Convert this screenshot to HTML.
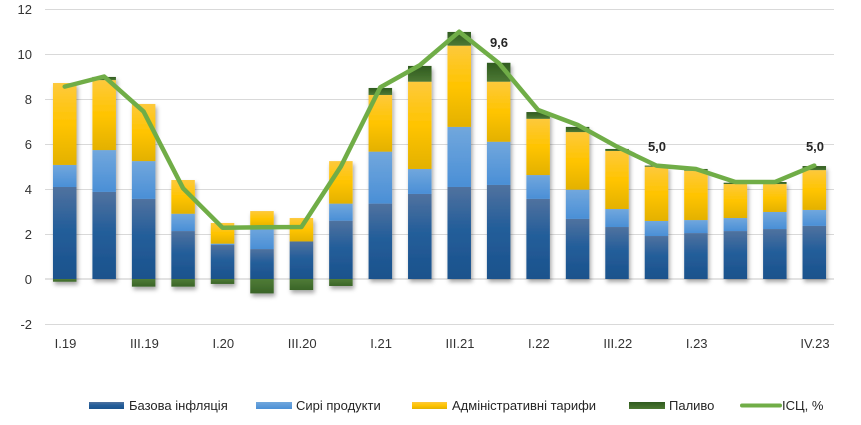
<!DOCTYPE html>
<html>
<head>
<meta charset="utf-8">
<style>
html,body{margin:0;padding:0;background:#fff;}
svg{display:block;}
text{font-family:"Liberation Sans","DejaVu Sans",sans-serif;}
</style>
</head>
<body>
<svg width="861" height="425" viewBox="0 0 861 425" xmlns="http://www.w3.org/2000/svg">
<defs>
  <linearGradient id="gBase" x1="0" y1="0" x2="0" y2="1">
    <stop offset="0" stop-color="#50729f"/>
    <stop offset="0.45" stop-color="#245e9a"/>
    <stop offset="1" stop-color="#1b528c"/>
  </linearGradient>
  <linearGradient id="gRaw" x1="0" y1="0" x2="0" y2="1">
    <stop offset="0" stop-color="#71a7dd"/>
    <stop offset="1" stop-color="#4a8fd6"/>
  </linearGradient>
  <linearGradient id="gAdm" x1="0" y1="0" x2="0" y2="1">
    <stop offset="0" stop-color="#fdc93c"/>
    <stop offset="0.5" stop-color="#ffc400"/>
    <stop offset="1" stop-color="#e3b100"/>
  </linearGradient>
  <linearGradient id="gFuel" x1="0" y1="0" x2="0" y2="1">
    <stop offset="0" stop-color="#2f5a1f"/>
    <stop offset="1" stop-color="#4d7934"/>
  </linearGradient>
  <linearGradient id="gFuelN" x1="0" y1="0" x2="0" y2="1">
    <stop offset="0" stop-color="#4f7b36"/>
    <stop offset="1" stop-color="#3a6528"/>
  </linearGradient>
  <filter id="sh" x="-30%" y="-30%" width="160%" height="160%">
    <feDropShadow dx="1.5" dy="3" stdDeviation="2" flood-color="#000" flood-opacity="0.35"/>
  </filter>
</defs>

<!-- gridlines -->
<g stroke="#d9d9d9" stroke-width="1">
  <line x1="45" y1="9.5" x2="834" y2="9.5"/>
  <line x1="45" y1="54.5" x2="834" y2="54.5"/>
  <line x1="45" y1="99.5" x2="834" y2="99.5"/>
  <line x1="45" y1="144.5" x2="834" y2="144.5"/>
  <line x1="45" y1="189.5" x2="834" y2="189.5"/>
  <line x1="45" y1="234.5" x2="834" y2="234.5"/>
  <line x1="45" y1="279" x2="834" y2="279" stroke-width="1.5"/>
  <line x1="45" y1="324.5" x2="834" y2="324.5"/>
</g>

<!-- y labels -->
<g font-size="13" fill="#333" text-anchor="end">
  <text x="32" y="14">12</text>
  <text x="32" y="59">10</text>
  <text x="32" y="104">8</text>
  <text x="32" y="149">6</text>
  <text x="32" y="194">4</text>
  <text x="32" y="239">2</text>
  <text x="32" y="284">0</text>
  <text x="32" y="329">-2</text>
</g>

<g id="bars"></g>

<!-- x labels -->
<g font-size="13" fill="#333" text-anchor="middle">
  <text x="65.5" y="348">I.19</text>
  <text x="144.4" y="348">III.19</text>
  <text x="223.3" y="348">I.20</text>
  <text x="302.2" y="348">III.20</text>
  <text x="381.1" y="348">I.21</text>
  <text x="460" y="348">III.21</text>
  <text x="538.9" y="348">I.22</text>
  <text x="617.8" y="348">III.22</text>
  <text x="696.7" y="348">I.23</text>
  <text x="815" y="348">IV.23</text>
</g>

<!-- data labels -->
<g font-size="13" font-weight="bold" fill="#262626" text-anchor="middle">
  <text x="499" y="47">9,6</text>
  <text x="657" y="151">5,0</text>
  <text x="815" y="151">5,0</text>
</g>

<!-- legend -->
<g font-size="13" fill="#262626">
  <rect x="89" y="402" width="35" height="7" fill="url(#gBase)"/>
  <text x="129" y="410">Базова інфляція</text>
  <rect x="256" y="402" width="36" height="7" fill="url(#gRaw)"/>
  <text x="296" y="410">Сирі продукти</text>
  <rect x="412" y="402" width="35" height="7" fill="url(#gAdm)"/>
  <text x="452" y="410">Адміністративні тарифи</text>
  <rect x="629" y="402" width="36" height="7" fill="url(#gFuel)"/>
  <text x="669" y="410">Паливо</text>
  <line x1="742" y1="405.5" x2="780" y2="405.5" stroke="#70ad47" stroke-width="4" stroke-linecap="round"/>
  <text x="782" y="410">ІСЦ, %</text>
</g>

<script>
(function(){
  var base=[4.09,3.87,3.56,2.13,1.51,1.33,1.67,2.59,3.35,3.78,4.09,4.18,3.56,2.67,2.31,1.91,2.04,2.13,2.22,2.36];
  var raw=[0.98,1.86,1.68,0.77,0.06,0.99,0.0,0.76,2.31,1.11,2.67,1.92,1.06,1.30,0.80,0.67,0.58,0.58,0.76,0.71];
  var adm=[3.64,3.11,2.54,1.50,0.92,0.70,1.04,1.89,2.52,3.88,3.61,2.67,2.50,2.56,2.58,2.41,2.19,1.51,1.24,1.77];
  var fuel=[-0.12,0.14,-0.34,-0.34,-0.22,-0.64,-0.49,-0.31,0.31,0.70,0.61,0.84,0.30,0.23,0.09,0.05,0.08,0.06,0.09,0.18];
  var cpi=[8.55,9.0,7.44,4.03,2.28,2.3,2.31,5.0,8.52,9.5,10.99,9.6,7.51,6.85,5.88,5.04,4.89,4.31,4.31,5.04];
  var ns="http://www.w3.org/2000/svg";
  var g=document.getElementById("bars");
  var w=39.45, bw=23.5, z=279, u=22.5;
  function Y(v){return z-u*v;}
  function rect(par,x,y1,y2,fill){
    var r=document.createElementNS(ns,"rect");
    var top=Math.min(y1,y2), h=Math.abs(y2-y1);
    if(h<0.01) return;
    r.setAttribute("x",x.toFixed(2));
    r.setAttribute("y",top.toFixed(2));
    r.setAttribute("width",bw);
    r.setAttribute("height",h.toFixed(2));
    r.setAttribute("fill",fill);
    par.appendChild(r);
  }
  var pts=[];
  for(var i=0;i<20;i++){
    var c=45+w*(i+0.5), x=c-bw/2;
    var bg=document.createElementNS(ns,"g");
    bg.setAttribute("filter","url(#sh)");
    var s=0;
    rect(bg,x,Y(0),Y(base[i]),"url(#gBase)"); s=base[i];
    rect(bg,x,Y(s),Y(s+raw[i]),"url(#gRaw)"); s+=raw[i];
    rect(bg,x,Y(s),Y(s+adm[i]),"url(#gAdm)"); s+=adm[i];
    if(fuel[i]>0){ rect(bg,x,Y(s),Y(s+fuel[i]),"url(#gFuel)"); }
    else { rect(bg,x,Y(0),Y(fuel[i]),"url(#gFuelN)"); }
    g.appendChild(bg);
    pts.push(c.toFixed(2)+","+Y(cpi[i]).toFixed(2));
  }
  var pl=document.createElementNS(ns,"polyline");
  pl.setAttribute("points",pts.join(" "));
  pl.setAttribute("fill","none");
  pl.setAttribute("stroke","#70ad47");
  pl.setAttribute("stroke-width","4.5");
  pl.setAttribute("stroke-linejoin","round");
  pl.setAttribute("stroke-linecap","round");
  g.appendChild(pl);
})();
</script>
</svg>
</body>
</html>
